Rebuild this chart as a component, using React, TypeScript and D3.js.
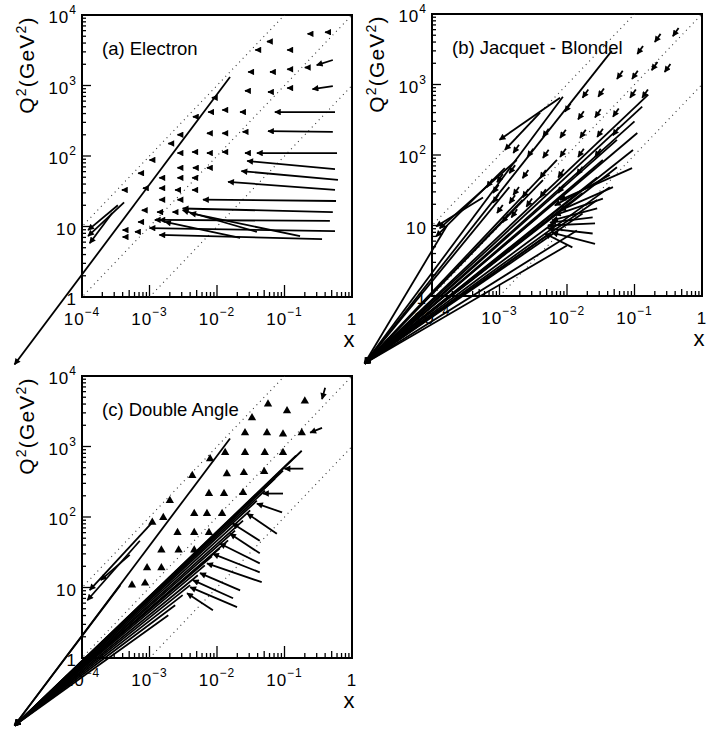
import React, { useEffect, useRef } from 'react';
import * as d3 from 'd3';

// Axis ticks (log scales)
const xTicks = [1e-4, 1e-3, 1e-2, 1e-1, 1];
const q2Ticks = [1, 10, 100, 1000, 10000];

// Dotted lines of constant y (Q2 = s * x * y), s
const yCuts = [1, 0.1, 0.01];
const sValue = 1e5;

// Point where the badly reconstructed events pile up (outside the frame)
const convergePoint = [1e-5, 0.11];

// (a) Electron: short arrows [x, Q2] (head position)
const electronDots = [
  [0.22, 5400], [0.4, 5700], [0.055, 4200], [0.037, 3200], [0.11, 3200],
  [0.029, 1560], [0.061, 1560], [0.11, 1700], [0.2, 1800],
  [0.026, 840], [0.057, 810], [0.11, 920], [0.0084, 670],
  [0.012, 450], [0.022, 420], [0.0074, 420], [0.0044, 360],
  [0.0071, 210], [0.012, 210], [0.024, 220], [0.0026, 200], [0.0019, 150],
  [0.0043, 114], [0.0071, 110], [0.012, 114], [0.0026, 110], [0.001, 88], [0.026, 110],
  [0.0026, 68], [0.0044, 68], [0.0071, 68],
  [0.0014, 49], [0.0026, 49], [0.0043, 49],
  [0.0008, 35], [0.0014, 35], [0.0024, 33], [0.0043, 33],
  [0.0014, 24], [0.0026, 24],
  [0.00077, 17], [0.0013, 16], [0.0022, 16],
  [0.00068, 11.6], [0.0012, 12.4],
  [0.0004, 8.9], [0.00061, 8.4], [0.0004, 7.1],
  [0.00068, 57], [0.00039, 33],
];
// (a) long arrows [x0, Q2_0, x1, Q2_1], head at (x1, Q2_1)
const electronArrows = [
  [0.52, 2300, 0.3, 1950],
  [0.52, 980, 0.26, 890],
  [0.56, 420, 0.072, 420],
  [0.52, 220, 0.057, 225],
  [0.6, 110, 0.039, 110],
  [0.56, 65, 0.028, 85],
  [0.62, 46, 0.023, 61],
  [0.56, 33, 0.0146, 43],
  [0.58, 23, 0.0062, 24],
  [0.52, 16, 0.0031, 18],
  [0.47, 12, 0.0014, 12.4],
  [0.56, 8.6, 0.001, 9.5],
  [0.36, 6.6, 0.0014, 7.6],
  [0.039, 8.4, 0.0031, 17],
  [0.022, 6.9, 0.0017, 11.6],
  [0.17, 7.3, 0.004, 15.5],
  [0.00034, 20, 0.000123, 8.9],
  [0.00042, 22, 0.000123, 7.3],
  [0.00028, 15.5, 0.00013, 5.8],
];
const electronToConv = [[0.0156, 1320]];

// (b) Jacquet-Blondel
const jbDots = [
  [0.2, 4000], [0.11, 2700], [0.28, 1500], [0.18, 1600], [0.092, 1200], [0.055, 1200],
  [0.13, 650], [0.086, 650], [0.029, 670], [0.017, 650],
  [0.048, 350], [0.026, 340], [0.0146, 320], [0.0093, 410],
  [0.048, 190], [0.028, 180], [0.0156, 175], [0.0079, 175], [0.0044, 180],
  [0.026, 94], [0.0146, 94], [0.0079, 94], [0.0044, 91], [0.0026, 94], [0.0016, 107],
  [0.014, 52], [0.0074, 48], [0.004, 47], [0.0022, 47], [0.0014, 55],
  [0.0074, 29], [0.004, 25], [0.0022, 25], [0.0016, 27],
  [0.00092, 41], [0.0008, 29], [0.0008, 21], [0.00092, 15], [0.0011, 11], [0.00065, 35],
  [0.0014, 20.6], [0.0025, 18.5], [0.0015, 13], [0.37, 4850],
];
const jbArrows = [
  [0.092, 65, 0.0079, 23],
  [0.048, 35, 0.0079, 16.4],
  [0.034, 24, 0.0066, 14],
  [0.028, 17.5, 0.006, 11.8],
  [0.024, 13, 0.0056, 11],
  [0.026, 10.7, 0.0052, 10],
  [0.024, 7.7, 0.0052, 9.1],
  [0.026, 5.5, 0.006, 7.9],
  [0.012, 4.9, 0.0047, 7.7],
  [0.043, 52, 0.0066, 19.3],
  [0.0079, 650, 0.001, 164],
  [0.004, 400, 0.0012, 118],
  [0.0018, 85, 0.00013, 9.1],
  [0.0012, 65, 0.000115, 7],
  [0.00057, 25, 0.000115, 9.7],
];
const jbToConv = [
  [0.046, 3000], [0.0087, 670], [0.16, 720], [0.13, 485], [0.1, 300], [0.11, 205],
  [0.055, 164], [0.095, 118], [0.034, 85], [0.055, 67], [0.028, 48], [0.043, 35],
  [0.017, 29], [0.028, 23], [0.011, 21], [0.017, 14.8], [0.0071, 11.8], [0.014, 8.5],
  [0.0056, 7.7], [0.01, 5.2], [0.0036, 13], [0.0022, 23], [0.0014, 35], [0.0044, 44],
  [0.0071, 85], [0.000167, 10],
];

// (c) Double Angle
const daDots = [
  [0.057, 4000], [0.109, 3200], [0.2, 4400], [0.033, 2550],
  [0.026, 1560], [0.055, 1560], [0.095, 1500], [0.18, 1560],
  [0.0132, 820], [0.026, 820], [0.051, 820], [0.095, 820],
  [0.014, 410], [0.025, 425], [0.05, 440],
  [0.0076, 215], [0.0127, 215], [0.0243, 222],
  [0.0046, 112], [0.0071, 112], [0.0119, 112],
  [0.0026, 60], [0.0046, 60], [0.0076, 60],
  [0.0015, 34], [0.0027, 34], [0.0046, 34],
  [0.00092, 19], [0.0015, 19],
  [0.00086, 11.5], [0.00055, 10.8],
  [0.0079, 670], [0.0043, 386], [0.002, 171], [0.0016, 98], [0.0011, 84],
];
const daArrows = [
  [0.4, 6800, 0.36, 4700],
  [0.36, 1840, 0.24, 1570],
  [0.19, 485, 0.1, 485],
  [0.095, 215, 0.048, 215],
  [0.092, 116, 0.039, 155],
  [0.077, 58, 0.028, 112],
  [0.043, 46, 0.017, 81],
  [0.043, 30.5, 0.0156, 58],
  [0.043, 22, 0.011, 42],
  [0.043, 16.4, 0.0087, 30],
  [0.046, 11.9, 0.0071, 22],
  [0.022, 9.1, 0.0056, 16],
  [0.0173, 7.05, 0.0044, 12.7],
  [0.0198, 5.26, 0.004, 10.1],
  [0.0087, 4.77, 0.0036, 8.3],
  [0.0011, 84, 0.00013, 9.2],
  [0.00072, 46, 0.00012, 6.6],
  [0.00051, 29, 0.00019, 12.7],
];
const daToConv = [
  [0.0156, 1300], [0.18, 870], [0.148, 740], [0.095, 454], [0.072, 350], [0.0514, 237],
  [0.039, 171], [0.031, 124], [0.0243, 89], [0.0185, 64], [0.0146, 46.5], [0.011, 36],
  [0.0084, 27.7], [0.0066, 20.6], [0.0052, 14.9], [0.004, 10.8], [0.0031, 7.8],
  [0.0024, 5.6], [0.0019, 4.05], [0.00037, 10.8],
];

const W = 270;
const H = 282;
const FONT = '"Liberation Sans", Arial, sans-serif';

const panels = [
  { key: 'a', label: '(a) Electron', left: 82, top: 15, dots: electronDots, arrows: electronArrows, toConv: electronToConv, glyph: { angle: 180, stem: 3 } },
  { key: 'b', label: '(b) Jacquet - Blondel', left: 432, top: 14, dots: jbDots, arrows: jbArrows, toConv: jbToConv, glyph: { angle: 235, stem: 10 } },
  { key: 'c', label: '(c) Double Angle', left: 82, top: 376, dots: daDots, arrows: daArrows, toConv: daToConv, glyph: null },
];

const expLabel = (v: number) => {
  const e = Math.round(Math.log10(v));
  if (e === 0) return ['1', ''];
  if (e === 1) return ['10', ''];
  return ['10', e < 0 ? '\u2212' + Math.abs(e) : String(e)];
};

function drawPanel(svg: any, defs: any, p: any) {
  const x = d3.scaleLog().domain([1e-4, 1]).range([p.left, p.left + W]);
  const y = d3.scaleLog().domain([1, 1e4]).range([p.top + H, p.top]);
  const g = svg.append('g').attr('class', 'panel-' + p.key);
  const bottom = p.top + H;

  defs
    .append('clipPath')
    .attr('id', 'clip-' + p.key)
    .append('rect')
    .attr('x', p.left)
    .attr('y', p.top)
    .attr('width', W)
    .attr('height', H);

  // Frame
  g.append('rect')
    .attr('x', p.left)
    .attr('y', p.top)
    .attr('width', W)
    .attr('height', H)
    .attr('fill', 'none')
    .attr('stroke', '#000')
    .attr('stroke-width', 2);

  // Ticks
  const ticks = g.append('g').attr('stroke', '#000').attr('stroke-width', 1.3);
  for (let d = -4; d < 0; d++) {
    for (let m = 1; m < 10; m++) {
      const v = m * Math.pow(10, d);
      const len = m === 1 ? 12 : m === 5 ? 7 : 5;
      ticks.append('line').attr('x1', x(v)).attr('x2', x(v)).attr('y1', bottom).attr('y2', bottom - len);
    }
  }
  for (let d = 0; d < 4; d++) {
    for (let m = 1; m < 10; m++) {
      const v = m * Math.pow(10, d);
      const len = m === 1 ? 9 : 4;
      ticks.append('line').attr('x1', p.left).attr('x2', p.left + len).attr('y1', y(v)).attr('y2', y(v));
    }
  }

  // Tick labels
  const lab = g.append('g').attr('font-family', FONT).attr('fill', '#000');
  xTicks.forEach(v => {
    const [base, sup] = expLabel(v);
    const t = lab.append('text').attr('x', x(v)).attr('y', bottom + 28).attr('text-anchor', 'middle').attr('font-size', 17).attr('letter-spacing', 1);
    t.append('tspan').text(base);
    if (sup) t.append('tspan').attr('dy', -9).attr('font-size', 12).text(sup);
  });
  q2Ticks.forEach(v => {
    const [base, sup] = expLabel(v);
    const t = lab.append('text').attr('x', p.left - 5).attr('y', y(v) + 8).attr('text-anchor', 'end').attr('font-size', 17).attr('letter-spacing', 1);
    t.append('tspan').text(base);
    if (sup) t.append('tspan').attr('dy', -9).attr('font-size', 12).text(sup);
  });

  // Axis titles
  const yt = lab
    .append('text')
    .attr('transform', `translate(${p.left - 48},${p.top + 50}) rotate(-90)`)
    .attr('text-anchor', 'middle')
    .attr('font-size', 21)
    .attr('letter-spacing', 1.2);
  yt.append('tspan').text('Q');
  yt.append('tspan').attr('dy', -8).attr('font-size', 14).text('2');
  yt.append('tspan').attr('dy', 8).text('(GeV');
  yt.append('tspan').attr('dy', -8).attr('font-size', 14).text('2');
  yt.append('tspan').attr('dy', 8).text(')');

  lab.append('text')
    .attr('x', p.left + W - 3)
    .attr('y', bottom + 50)
    .attr('text-anchor', 'middle')
    .attr('font-size', 22)
    .text('x');

  lab.append('text')
    .attr('x', p.left + 20)
    .attr('y', p.top + 40)
    .attr('font-size', 18.5)
    .text(p.label);

  // Dotted lines of constant y
  const dotted = g.append('g').attr('clip-path', `url(#clip-${p.key})`);
  yCuts.forEach(yc => {
    dotted
      .append('line')
      .attr('x1', x(1e-5))
      .attr('y1', y(sValue * 1e-5 * yc))
      .attr('x2', x(1))
      .attr('y2', y(sValue * 1 * yc))
      .attr('stroke', '#333')
      .attr('stroke-width', 1.1)
      .attr('stroke-dasharray', '1,4');
  });

  // Arrows (not clipped; they run out of the frame)
  const arr = g.append('g').attr('stroke', '#000').attr('stroke-width', 1.8).attr('fill', 'none');
  p.toConv.forEach((t: number[]) => {
    arr.append('line')
      .attr('x1', x(t[0]))
      .attr('y1', y(t[1]))
      .attr('x2', x(convergePoint[0]))
      .attr('y2', y(convergePoint[1]))
      .attr('marker-end', 'url(#head)');
  });
  p.arrows.forEach((a: number[]) => {
    arr.append('line')
      .attr('x1', x(a[0]))
      .attr('y1', y(a[1]))
      .attr('x2', x(a[2]))
      .attr('y2', y(a[3]))
      .attr('marker-end', 'url(#head)');
  });

  // Short arrows / markers
  if (p.glyph) {
    const th = (p.glyph.angle * Math.PI) / 180;
    const dx = Math.cos(th);
    const dy = -Math.sin(th);
    p.dots.forEach((d: number[]) => {
      const hx = x(d[0]);
      const hy = y(d[1]);
      arr.append('line')
        .attr('x1', hx - p.glyph.stem * dx)
        .attr('y1', hy - p.glyph.stem * dy)
        .attr('x2', hx)
        .attr('y2', hy)
        .attr('marker-end', 'url(#head)');
    });
  } else {
    const sym = d3.symbol().type(d3.symbolTriangle).size(30);
    g.append('g')
      .selectAll('path')
      .data(p.dots)
      .enter()
      .append('path')
      .attr('d', sym as any)
      .attr('transform', (d: any) => `translate(${x(d[0])},${y(d[1])})`)
      .attr('fill', '#000');
  }
}

export default function App() {
  const ref = useRef<SVGSVGElement>(null);

  useEffect(() => {
    const svg = d3.select(ref.current);
    svg.selectAll('*').remove();

    const defs = svg.append('defs');
    defs
      .append('marker')
      .attr('id', 'head')
      .attr('viewBox', '0 0 10 10')
      .attr('refX', 9)
      .attr('refY', 5)
      .attr('markerWidth', 9)
      .attr('markerHeight', 6.5)
      .attr('markerUnits', 'userSpaceOnUse')
      .attr('orient', 'auto')
      .append('path')
      .attr('d', 'M0,0 L10,5 L0,10 z')
      .attr('fill', '#000')
      .attr('stroke', 'none');

    panels.forEach(p => drawPanel(svg, defs, p));
  }, []);

  return (
    <svg
      ref={ref}
      width={707}
      height={732}
      style={{ position: 'absolute', left: 0, top: 0, background: '#fff' }}
    />
  );
}
